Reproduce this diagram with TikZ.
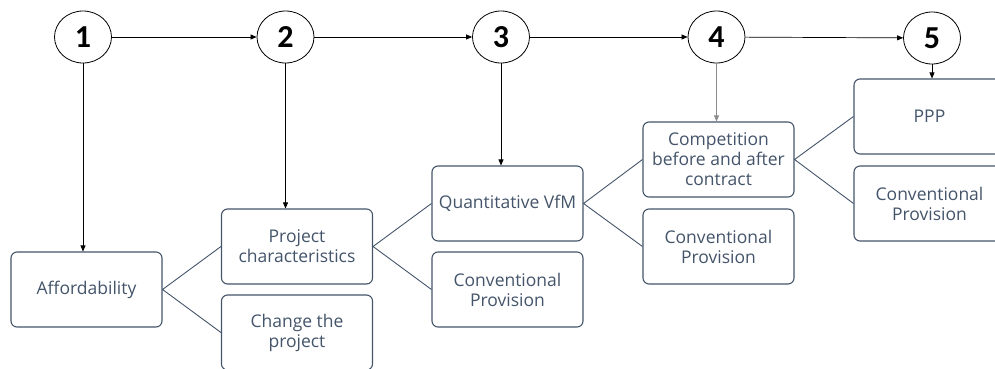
\documentclass[tikz,border=0pt]{standalone}
\usepackage{fontspec}
\setmainfont{Open Sans}
\newfontfamily\numfont{Carlito}
\usetikzlibrary{shapes.geometric,arrows.meta}
\definecolor{slate}{HTML}{44546A}
\begin{document}
\begin{tikzpicture}[x=1pt,y=-1pt,
  stage/.style={ellipse,draw=black,line width=0.8pt,minimum width=57pt,minimum height=52pt,inner sep=0pt,
    font=\numfont\bfseries\fontsize{32}{32}\selectfont},
  option/.style={rectangle,rounded corners=6pt,draw=slate,line width=1.1pt,minimum width=151pt,minimum height=75pt,
    inner sep=2pt,align=center,text=slate,font=\fontsize{17.5}{20}\selectfont},
  arr/.style={-{Triangle[length=6pt,width=5pt]},line width=0.7pt,draw=black},
  branch/.style={draw=slate,line width=0.9pt}]
\useasboundingbox (0,0) rectangle (995,369);
\clip (0,0) rectangle (995,369);

% stage markers
\node[stage] (c1) at (83,37) {1};
\node[stage] (c2) at (285.5,37) {2};
\node[stage] (c3) at (501,37) {3};
\node[stage] (c4) at (716.5,37) {4};
\node[stage] (c5) at (932,38) {5};

% decision boxes
\node[option] (aff) at (86.5,289.5) {Affordability};
\node[option] (pc) at (297,246.5) {Project\\characteristics};
\node[option] (chg) at (297,332.5) {Change the\\project};
\node[option] (qv) at (507.5,203.5) {Quantitative VfM};
\node[option] (cp3) at (507.5,289.5) {Conventional\\Provision};
\node[option] (comp) at (718.5,159.5) {Competition\\before and after\\contract};
\node[option] (cp4) at (718.5,246.5) {Conventional\\Provision};
\node[option] (ppp) at (929.5,116.5) {PPP};
\node[option] (cp5) at (929.5,203.5) {Conventional\\Provision};

% sequence of stages
\draw[arr] (c1) -- (c2);
\draw[arr] (c2) -- (c3);
\draw[arr] (c3) -- (c4);
\draw[arr] (c4) -- (c5);

% each stage leads to its test
\draw[arr] (c1.south) -- (c1.south |- aff.north);
\draw[arr] (c2.south) -- (c2.south |- pc.north);
\draw[arr] (c3.south) -- (c3.south |- qv.north);
\draw[arr,draw=black!45] (c4.south) -- (c4.south |- comp.north);
\draw[arr] (c5.south) -- (c5.south |- ppp.north);

% branching outcomes
\draw[branch] (pc.west) -- (aff.east) -- (chg.west);
\draw[branch] (qv.west) -- (pc.east) -- (cp3.west);
\draw[branch] (comp.west) -- (qv.east) -- (cp4.west);
\draw[branch] (ppp.west) -- (comp.east) -- (cp5.west);
\end{tikzpicture}
\end{document}
